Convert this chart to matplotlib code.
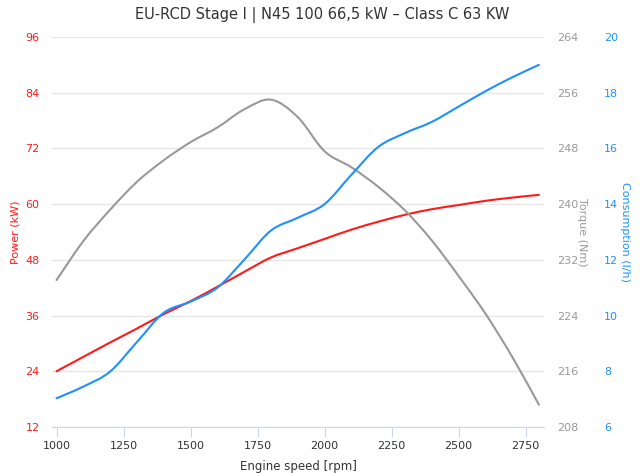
import matplotlib
matplotlib.use("Agg")
import matplotlib.pyplot as plt
from matplotlib.path import Path
from matplotlib.patches import PathPatch

# engine speed (rpm)
rpm = [1000, 1100, 1200, 1300, 1400, 1500, 1600, 1700, 1800, 1900,
       2000, 2100, 2200, 2300, 2400, 2500, 2600, 2700, 2800]

# power (kW)
power = [24.0, 27.1, 30.2, 33.2, 36.3, 39.1, 42.2, 45.4, 48.5, 50.5,
         52.5, 54.5, 56.2, 57.7, 58.9, 59.8, 60.7, 61.4, 62.0]

# torque (Nm)
torque = [229.1, 234.7, 239.2, 243.2, 246.3, 248.9, 251.0, 253.6, 255.0, 252.5,
          247.6, 245.3, 242.5, 239.1, 234.8, 229.7, 224.3, 218.1, 211.2]

# consumption (l/h)
consumption = [7.03, 7.45, 7.99, 9.05, 10.1, 10.5, 11.0, 12.0, 13.05, 13.51,
               14.0, 15.05, 16.05, 16.55, 16.95, 17.5, 18.05, 18.55, 19.0]

x_ticks = [1000, 1250, 1500, 1750, 2000, 2250, 2500, 2750]
power_ticks = [12, 24, 36, 48, 60, 72, 84, 96]
torque_ticks = [208, 216, 224, 232, 240, 248, 256, 264]
cons_ticks = [6, 8, 10, 12, 14, 16, 18, 20]

RED = "#ff1a1a"
GREY = "#999999"
BLUE = "#1e90ff"


def spline(ax, xs, ys, color):
    # smooth curve through the points (catmull-rom as cubic bezier)
    n = len(xs)
    verts = [(xs[0], ys[0])]
    codes = [Path.MOVETO]
    for i in range(n - 1):
        i0 = max(i - 1, 0)
        i3 = min(i + 2, n - 1)
        c1 = (xs[i] + (xs[i + 1] - xs[i0]) / 6, ys[i] + (ys[i + 1] - ys[i0]) / 6)
        c2 = (xs[i + 1] - (xs[i3] - xs[i]) / 6, ys[i + 1] - (ys[i3] - ys[i]) / 6)
        verts += [c1, c2, (xs[i + 1], ys[i + 1])]
        codes += [Path.CURVE4] * 3
    ax.add_patch(PathPatch(Path(verts, codes), fill=False, edgecolor=color,
                           lw=1.5, capstyle="round", joinstyle="round"))


fig = plt.figure(figsize=(6.41, 4.73), dpi=100)
ax = fig.add_axes([0.0811, 0.0973, 0.768, 0.8245])
ax2 = ax.twinx()
ax3 = ax.twinx()

spline(ax, rpm, power, RED)
spline(ax2, rpm, torque, GREY)
spline(ax3, rpm, consumption, BLUE)

ax.set_xlim(983, 2820)
ax.set_ylim(12, 96)
ax2.set_ylim(208, 264)
ax3.set_ylim(6, 20)

ax.set_xticks(x_ticks)
ax.set_yticks(power_ticks)
ax2.set_yticks(torque_ticks)
ax3.set_yticks(cons_ticks)

ax.grid(axis="y", color="#e6e6e6", lw=1)
ax.set_axisbelow(True)

for a in (ax, ax2, ax3):
    for s in a.spines.values():
        s.set_visible(False)
ax.spines["bottom"].set_visible(True)
ax.spines["bottom"].set_color("#ccd6eb")

ax.tick_params(axis="x", length=7, color="#ccd6eb", labelsize=8, labelcolor="#333333", pad=3)
ax.tick_params(axis="y", length=0, labelsize=8, labelcolor=RED, pad=9)
ax2.tick_params(axis="y", length=0, labelsize=8, labelcolor=GREY, pad=9)
ax3.tick_params(axis="y", length=0, labelsize=8, labelcolor=BLUE, pad=43)

ax.set_xlabel("Engine speed [rpm]", fontsize=8.5, color="#333333")
ax.xaxis.set_label_coords(0.5, -0.085)

ax.set_ylabel("Power (kW)", fontsize=8, color=RED)
ax.yaxis.set_label_coords(-0.064, 0.5)
ax2.set_ylabel("Torque (Nm)", fontsize=8, color=GREY, rotation=270, va="center")
ax2.yaxis.set_label_coords(1.076, 0.5)
ax3.set_ylabel("Consumption (l/h)", fontsize=8, color=BLUE, rotation=270, va="center")
ax3.yaxis.set_label_coords(1.163, 0.5)

fig.text(0.502, 0.968, "EU-RCD Stage I | N45 100 66,5 kW – Class C 63 KW",
         ha="center", va="center", fontsize=10.5, color="#333333")

fig.savefig("out.png", dpi=100)
